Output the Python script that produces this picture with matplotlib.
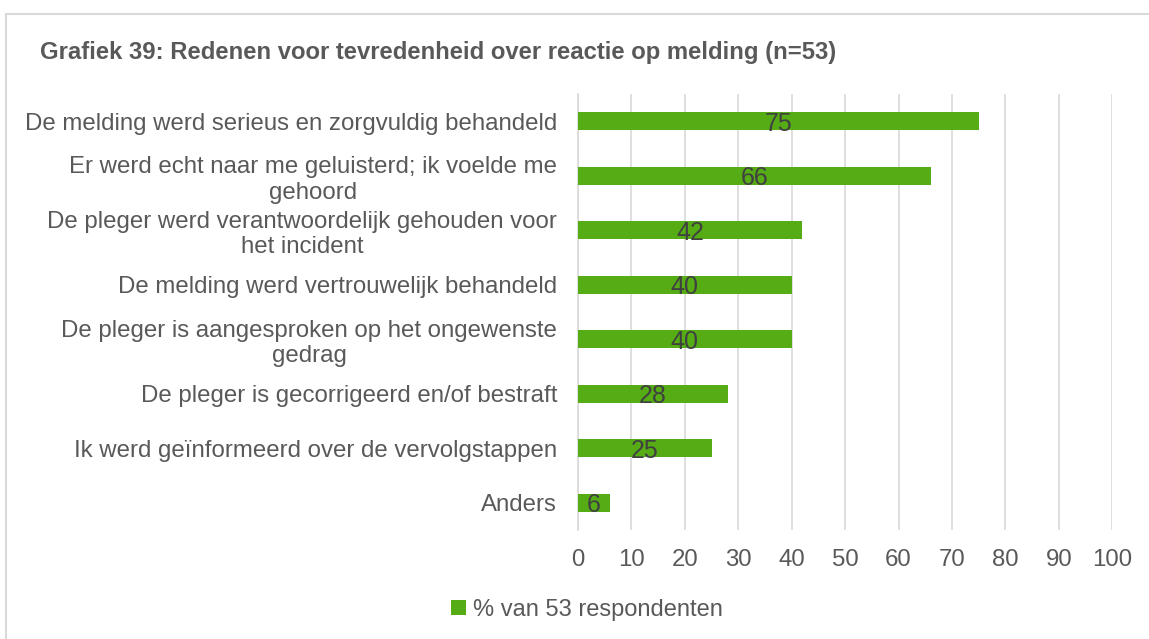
import matplotlib.pyplot as plt
from matplotlib.lines import Line2D

plt.rcParams['font.family'] = ['Liberation Sans', 'DejaVu Sans']

# Redenen, van boven naar onder
categories = [
    'De melding werd serieus en zorgvuldig behandeld',
    'Er werd echt naar me geluisterd; ik voelde me\ngehoord',
    'De pleger werd verantwoordelijk gehouden voor\nhet incident',
    'De melding werd vertrouwelijk behandeld',
    'De pleger is aangesproken op het ongewenste\ngedrag',
    'De pleger is gecorrigeerd en/of bestraft',
    'Ik werd geïnformeerd over de vervolgstappen',
    'Anders',
]
percentages = [75, 66, 42, 40, 40, 28, 25, 6]
series_name = '% van 53 respondenten'
title = 'Grafiek 39: Redenen voor tevredenheid over reactie op melding (n=53)'
xticks = list(range(0, 101, 10))

green = '#56AC15'
text_grey = '#595959'
label_grey = '#404040'
grid_grey = '#D9D9D9'

fig = plt.figure(figsize=(11.49, 6.39), dpi=100)
ax = fig.add_axes([0.503, 0.1706, 0.465, 0.6823])

y = list(range(len(categories)))
bars = ax.barh(y, percentages, height=0.33, color=green, label=series_name, zorder=3)
ax.set_ylim(len(categories) - 0.5, -0.5)
ax.set_xlim(0, 100)
ax.set_xticks(xticks)
ax.set_yticks(y)
ax.set_yticklabels(categories, multialignment='center')

for rect, v in zip(bars, percentages):
    ax.text(rect.get_width() / 2, rect.get_y() + rect.get_height() / 2, str(v),
            ha='center', va='center_baseline', fontsize=18, color=label_grey, zorder=4)

ax.grid(axis='x', color=grid_grey, linewidth=1.2, zorder=0)
ax.grid(axis='y', visible=False)
for side in ['top', 'right', 'bottom']:
    ax.spines[side].set_visible(False)
ax.spines['left'].set_color(grid_grey)
ax.spines['left'].set_linewidth(1.2)
ax.tick_params(axis='both', length=0, labelcolor=text_grey)
ax.tick_params(axis='x', pad=14, labelsize=17.3)
ax.tick_params(axis='y', pad=15, labelsize=17.3)

fig.text(40 / 1149, 1 - 53 / 639, title, fontsize=17.2, fontweight='bold',
         color=text_grey, ha='left', va='center')

fig.legend(handles=[bars], labels=[series_name], loc='center',
           bbox_to_anchor=(587 / 1149, 1 - 610 / 639), frameon=False,
           fontsize=17, labelcolor=text_grey, handlelength=0.6, handleheight=0.6,
           handletextpad=0.3)

# rand van het grafiekvak
fig.add_artist(Line2D([6 / 1149, 6 / 1149], [0, 1 - 14 / 639], color=grid_grey, linewidth=1.5))
fig.add_artist(Line2D([6 / 1149, 1], [1 - 14 / 639, 1 - 14 / 639], color=grid_grey, linewidth=1.5))

fig.savefig('out.png', dpi=100)
